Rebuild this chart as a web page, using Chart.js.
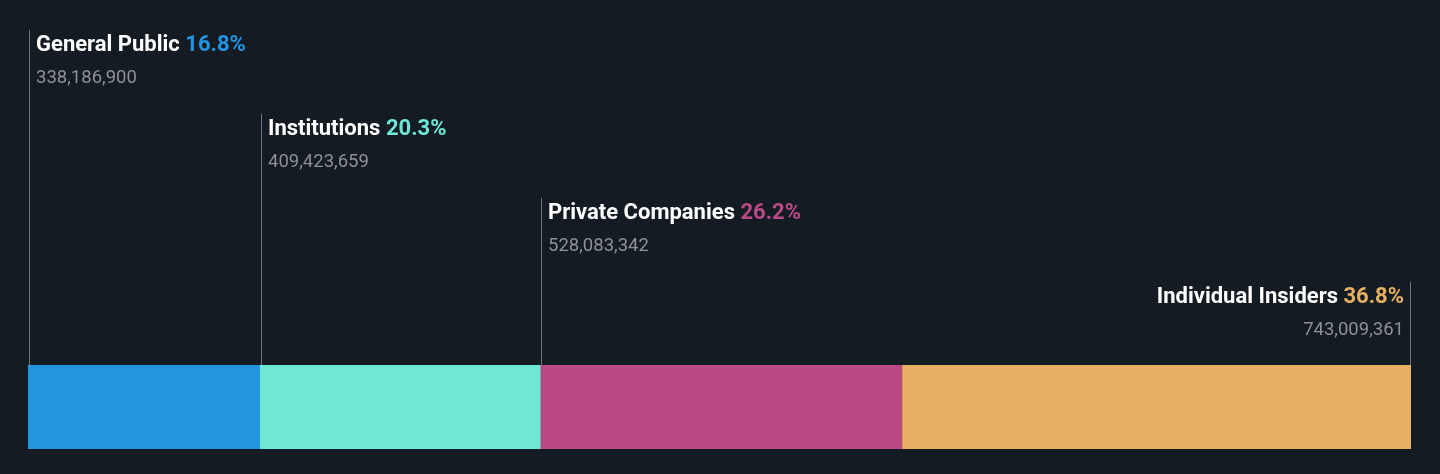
<!DOCTYPE html>
<html>
<head>
<meta charset="utf-8">
<script src="https://cdn.jsdelivr.net/npm/chart.js@4"></script>
<style>
  html, body { margin: 0; padding: 0; background: #151b23; }
  #wrap { width: 1440px; height: 474px; }
</style>
</head>
<body>
<div id="wrap"><canvas id="chart" width="1440" height="474"></canvas></div>
<script>
// ownership breakdown
const groups = ['General Public', 'Institutions', 'Private Companies', 'Individual Insiders'];
const shares = [338186900, 409423659, 528083342, 743009361];
const percents = ['16.8%', '20.3%', '26.2%', '36.8%'];
const colors = ['#2394df', '#6fe6d6', '#b94a86', '#e5b062'];

const total = shares.reduce((a, b) => a + b, 0);

// labels + leader lines above each segment
const labelPlugin = {
  id: 'ownerLabels',
  afterDatasetsDraw(chart) {
    const ctx = chart.ctx;
    const xs = chart.scales.x;
    const top = chart.chartArea.top;
    let cum = 0;
    ctx.save();
    groups.forEach((g, i) => {
      const start = xs.getPixelForValue(cum);
      cum += shares[i];
      const end = xs.getPixelForValue(cum);
      const last = i === groups.length - 1;
      const lx = Math.round(last ? end - 1 : start + 1);
      const lineTop = 30 + i * 84;

      ctx.strokeStyle = 'rgba(255,255,255,0.4)';
      ctx.lineWidth = 1;
      ctx.beginPath();
      ctx.moveTo(lx + 0.5, lineTop);
      ctx.lineTo(lx + 0.5, top);
      ctx.stroke();

      ctx.textBaseline = 'middle';
      ctx.font = 'bold 22px Roboto';
      const nameW = ctx.measureText(g + ' ').width;
      const pctW = ctx.measureText(percents[i]).width;
      let tx = last ? lx - 6 - nameW - pctW : lx + 7;
      ctx.textAlign = 'left';
      ctx.fillStyle = '#ffffff';
      ctx.fillText(g + ' ', tx, lineTop + 15);
      ctx.fillStyle = colors[i];
      ctx.fillText(percents[i], tx + nameW, lineTop + 15);

      ctx.font = '18.5px Roboto';
      ctx.fillStyle = '#8d9096';
      const val = shares[i].toLocaleString('en-US');
      if (last) {
        ctx.textAlign = 'right';
        ctx.fillText(val, lx - 6, lineTop + 48);
      } else {
        ctx.fillText(val, lx + 7, lineTop + 48);
      }
    });
    ctx.restore();
  }
};

new Chart(document.getElementById('chart'), {
  type: 'bar',
  data: {
    labels: ['Ownership'],
    datasets: groups.map((g, i) => ({
      label: g,
      data: [shares[i]],
      backgroundColor: colors[i],
      borderWidth: 0,
      barPercentage: 1,
      categoryPercentage: 1
    }))
  },
  options: {
    indexAxis: 'y',
    responsive: false,
    animation: false,
    layout: { padding: { top: 365, bottom: 25, left: 28, right: 29 } },
    scales: {
      x: { stacked: true, min: 0, max: total, display: false },
      y: { stacked: true, display: false }
    },
    plugins: {
      legend: { display: false },
      tooltip: { enabled: false }
    }
  },
  plugins: [labelPlugin]
});
</script>
</body>
</html>
